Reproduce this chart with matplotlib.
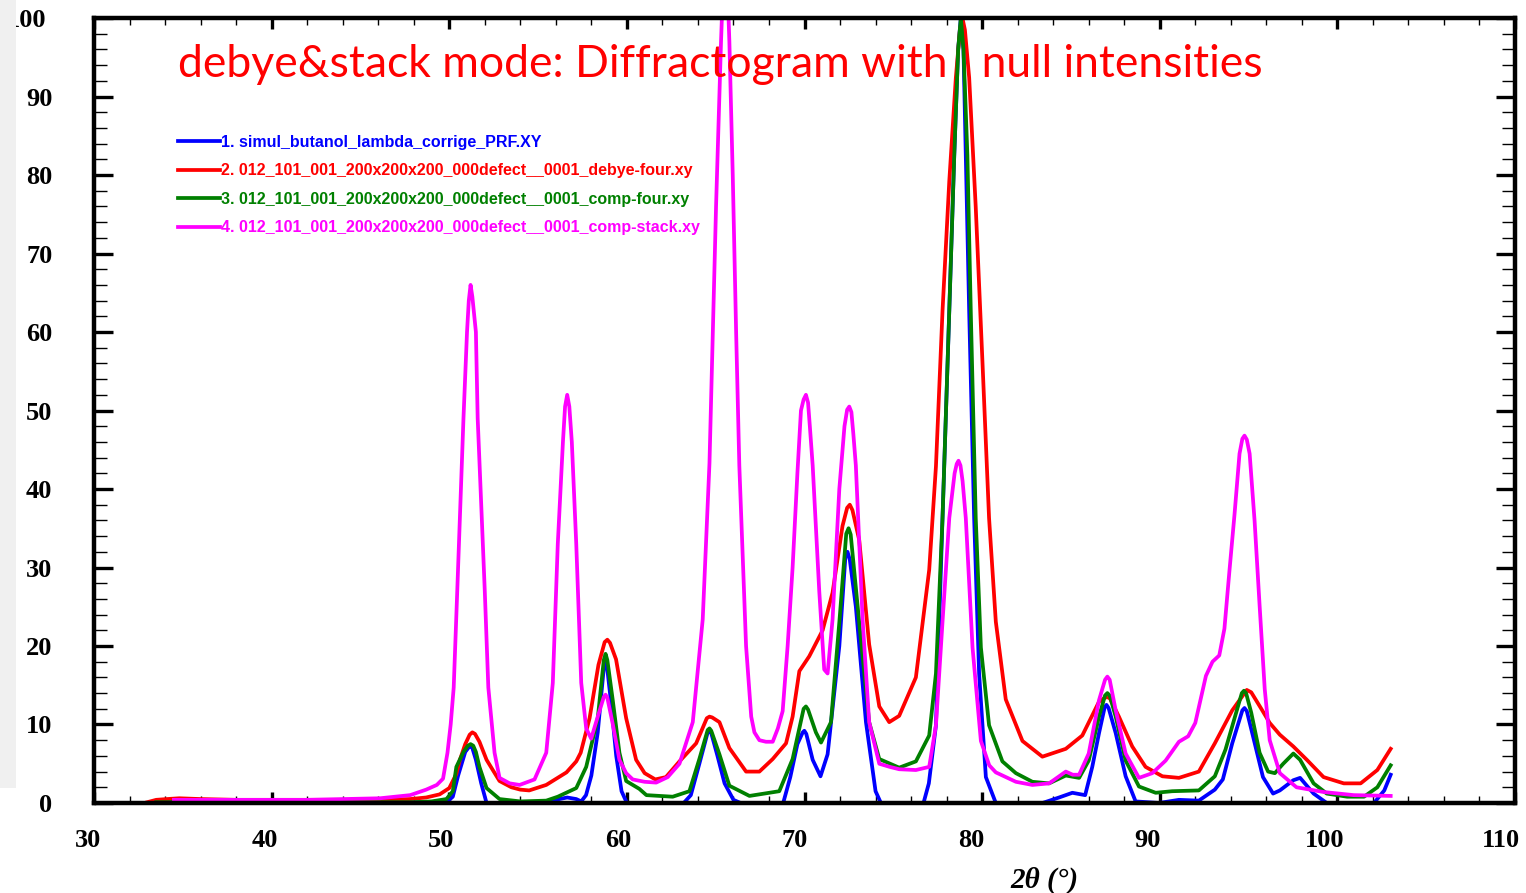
import matplotlib
matplotlib.use('Agg')
import matplotlib.pyplot as plt
import matplotlib.transforms as mtransforms
from matplotlib.ticker import MultipleLocator
from matplotlib.patches import Rectangle

# 1. simul_butanol_lambda_corrige_PRF.XY
blue_x = [33.5, 40, 45, 49.0, 49.8, 50.2, 50.5, 50.9, 51.1, 51.2, 51.3, 51.5, 51.8, 52.1, 55.5, 56.2,
          56.64, 57.15, 57.43, 57.7, 58.0, 58.36, 58.7, 58.8, 58.9, 59.1, 59.4, 59.7, 60.0, 63.2, 63.6,
          64.08, 64.55, 64.65, 64.75, 65.1, 65.5, 66.0, 66.4, 68.8, 69.2, 69.6, 69.9, 69.99, 70.1, 70.46,
          70.9, 71.3, 71.96, 72.3, 72.42, 72.55, 72.89, 73.46, 74.0, 74.3, 76.7, 77.0, 77.4, 77.77,
          78.15, 78.43, 78.65, 78.8, 78.95, 79.27, 79.55, 79.83, 80.21, 80.77, 83.4, 84.33, 85.08,
          85.8, 86.2, 86.58, 86.9, 87.0, 87.12, 87.52, 88.08, 88.64, 89.96, 91.08, 92.2, 93.1, 93.55,
          94.08, 94.65, 94.77, 94.9, 95.25, 95.81, 96.38, 96.76, 97.52, 97.9, 98.66, 99.4, 102.06,
          102.64, 103.0]
blue_y = [0.1, 0.1, 0.1, 0.1, 0.0, 0.8, 3.5, 6.5, 7.1, 7.3, 7.0, 5.5, 2.5, 0.0, 0.0, 0.5,
          0.7, 0.5, 0.2, 1.0, 3.5, 9.0, 17.2, 18.1, 17.0, 13.0, 6.0, 1.5, 0.0, 0.0, 1.0,
          5.0, 9.0, 9.3, 8.9, 6.0, 2.5, 0.4, 0.0, 0.0, 3.3, 7.5, 9.0, 9.2, 8.8, 5.5,
          3.4, 6.2, 20.0, 31.3, 32.0, 31.0, 25.0, 10.3, 1.5, 0.0, 0.0, 2.5, 9.9, 36.3,
          62.7, 82.5, 96.0, 100.0, 96.0, 62.7, 36.3, 16.5, 3.3, 0.0, 0.0, 0.7, 1.3,
          1.0, 4.6, 8.9, 12.2, 12.5, 12.1, 8.9, 3.4, 0.2, 0.0, 0.4, 0.3, 1.7, 3.0,
          7.6, 11.8, 12.1, 11.7, 8.5, 3.3, 1.2, 1.6, 2.9, 3.2, 1.2, 0.0, 0.0,
          1.6, 3.6]

# 2. ..._debye-four.xy
red_x = [33.0, 33.5, 34.1, 34.8, 36, 38, 42, 44, 46.1, 47.8, 48.7, 49.46, 50.0, 50.4, 50.6, 50.9,
         51.15, 51.3, 51.45, 51.7, 52.1, 52.83, 53.5, 54.0, 54.5, 55.46, 56.6, 57.15, 57.4, 57.9,
         58.4, 58.75, 58.9, 59.05, 59.39, 59.96, 60.52, 61.0, 61.6, 62.2, 62.96, 63.9, 64.5, 64.65,
         64.8, 65.21, 65.77, 66.71, 67.46, 68.21, 68.96, 69.33, 69.71, 70.27, 71.02, 71.58, 72.14,
         72.4, 72.55, 72.7, 73.08, 73.64, 74.21, 74.77, 75.33, 76.27, 77.02, 77.4, 77.77, 78.15,
         78.52, 78.75, 78.89, 79.03, 79.27, 79.64, 80.02, 80.39, 80.77, 81.33, 82.27, 83.39, 84.71,
         85.64, 86.58, 86.9, 87.05, 87.2, 87.7, 88.45, 89.2, 90.15, 91.08, 92.2, 93.1, 94.08, 94.9,
         95.15, 95.77, 96.19, 96.76, 97.52, 98.28, 99.22, 100.36, 101.31, 102.25, 103.0]
red_y = [0.1, 0.4, 0.5, 0.6, 0.5, 0.4, 0.4, 0.4, 0.4, 0.5, 0.7, 1.1, 1.9, 3.7, 5.5, 7.5,
         8.7, 9.0, 8.8, 7.8, 5.5, 2.8, 2.0, 1.7, 1.6, 2.3, 3.9, 5.3, 6.4, 10.8,
         17.6, 20.5, 20.8, 20.4, 18.3, 10.8, 5.5, 3.8, 3.0, 3.3, 5.3, 7.6, 10.8, 11.0,
         10.9, 10.3, 7.0, 4.0, 4.0, 5.6, 7.6, 11.0, 16.8, 18.7, 22.0, 26.8, 35.3,
         37.6, 38.0, 37.3, 33.5, 20.2, 12.3, 10.3, 11.1, 16.0, 29.7, 42.9, 62.7, 79.2,
         92.4, 98.5, 100.0, 98.5, 92.4, 75.9, 56.1, 36.3, 23.1, 13.2, 7.9, 5.9, 6.9,
         8.6, 12.9, 13.4, 13.5, 13.3, 11.0, 7.2, 4.6, 3.4, 3.2, 4.0, 7.6, 11.8, 14.4,
         14.1, 11.8, 10.2, 8.7, 7.2, 5.5, 3.3, 2.5, 2.5, 4.2, 6.9]

# 3. ..._comp-four.xy
green_x = [33.5, 40, 45, 48.0, 49.0, 49.84, 50.2, 50.4, 50.8, 51.05, 51.2, 51.35, 51.5, 51.7, 52.1,
           52.83, 54.0, 55.46, 56.11, 57.15, 57.71, 58.36, 58.7, 58.8, 58.9, 59.21, 59.58, 59.96,
           60.7, 61.1, 62.58, 63.52, 64.08, 64.55, 64.65, 64.75, 65.21, 65.77, 66.9, 68.58, 69.33,
           69.95, 70.08, 70.2, 70.64, 70.93, 71.49, 71.96, 72.35, 72.48, 72.6, 73.08, 73.64, 74.21,
           75.33, 76.27, 77.02, 77.4, 77.77, 78.15, 78.43, 78.65, 78.8, 78.95, 79.17, 79.36, 79.64,
           79.93, 80.39, 81.14, 81.9, 82.83, 83.77, 84.71, 85.46, 86.0, 86.58, 86.92, 87.05, 87.18,
           87.52, 88.08, 88.83, 89.77, 90.7, 92.2, 93.1, 93.7, 94.3, 94.62, 94.74, 94.86, 95.15,
           95.62, 96.1, 96.48, 96.95, 97.52, 97.9, 98.66, 99.4, 100.55, 101.5, 102.25, 103.0]
green_y = [0.1, 0.1, 0.1, 0.1, 0.2, 0.5, 1.5, 4.6, 6.5, 7.3, 7.5, 7.3, 6.5, 4.6, 1.9,
           0.5, 0.2, 0.3, 0.8, 1.9, 4.6, 10.8, 18.2, 19.0, 18.2, 13.0, 6.4, 2.8,
           1.8, 1.0, 0.8, 1.5, 5.6, 9.3, 9.5, 9.2, 6.2, 2.2, 0.9, 1.5, 5.6,
           12.0, 12.3, 11.9, 9.0, 7.7, 10.3, 23.0, 34.3, 35.0, 34.2, 23.0, 10.3, 5.6,
           4.5, 5.3, 8.6, 16.5, 36.3, 62.7, 82.5, 96.0, 100.0, 96.0, 82.5, 62.7, 36.3,
           19.8, 9.9, 5.3, 3.8, 2.7, 2.5, 3.5, 3.2, 5.4, 11.0, 13.7, 14.0, 13.7,
           11.0, 5.4, 2.1, 1.3, 1.5, 1.6, 3.4, 6.8, 11.5, 14.0, 14.3, 14.0, 11.5,
           6.4, 4.0, 3.8, 5.0, 6.3, 5.5, 2.5, 1.2, 0.8, 0.8, 2.0, 4.8]

# 4. ..._comp-stack.xy
mag_x = [34.5, 38, 42, 44, 46.1, 47.8, 48.7, 49.3, 49.65, 49.9, 50.08, 50.25, 50.45, 50.8, 51.0,
         51.1, 51.2, 51.3, 51.5, 51.6, 52.0, 52.2, 52.55, 52.83, 53.4, 53.96, 54.8, 55.46, 55.83,
         56.11, 56.4, 56.52, 56.64, 56.76, 56.9, 57.15, 57.43, 57.71, 57.99, 58.36, 58.7, 58.8,
         58.9, 59.21, 59.58, 59.96, 60.33, 61.0, 61.65, 62.3, 62.96, 63.71, 64.27, 64.65, 65.02,
         65.3, 65.54, 65.77, 65.96, 66.15, 66.33, 66.71, 67.0, 67.18, 67.46, 67.83, 68.21, 68.5,
         68.77, 69.05, 69.33, 69.6, 69.8, 69.95, 70.08, 70.2, 70.3, 70.46, 70.83, 71.11, 71.3,
         71.58, 71.96, 72.25, 72.4, 72.52, 72.64, 72.75, 72.89, 73.27, 73.64, 74.21, 74.8, 75.33,
         76.27, 77.02, 77.4, 77.77, 78.15, 78.45, 78.57, 78.67, 78.78, 78.9, 79.08, 79.46, 79.93,
         80.4, 80.77, 81.9, 82.83, 83.77, 84.71, 85.1, 85.46, 86.0, 86.58, 86.92, 87.05, 87.18,
         87.52, 88.08, 88.83, 89.58, 90.33, 91.08, 91.6, 92.0, 92.6, 92.97, 93.35, 93.64, 93.92,
         94.21, 94.49, 94.65, 94.77, 94.9, 95.06, 95.34, 95.62, 95.91, 96.19, 96.76, 97.7, 99.22,
         100.92, 103.0]
mag_y = [0.4, 0.4, 0.4, 0.5, 0.6, 1.0, 1.7, 2.3, 3.1, 6.4, 10.0, 14.7, 27.0, 49.0, 60.0,
         64.0, 66.0, 64.5, 60.0, 49.0, 27.0, 14.7, 6.4, 3.2, 2.5, 2.3, 3.0, 6.4, 15.3,
         33.0, 46.0, 50.5, 52.0, 50.5, 46.0, 33.0, 15.3, 9.5, 8.2, 11.0, 13.5, 13.8,
         13.4, 10.0, 5.5, 3.8, 3.0, 2.7, 2.6, 3.3, 5.0, 10.3, 23.4, 43.3, 76.0,
         97.0, 112.0, 97.0, 80.0, 60.0, 43.0, 20.0, 11.0, 9.0, 8.0, 7.8, 7.8, 9.5,
         11.7, 20.0, 30.0, 42.0, 50.0, 51.4, 52.0, 51.0, 48.0, 43.0, 27.0, 17.0, 16.5,
         23.4, 40.0, 48.0, 50.1, 50.5, 49.8, 47.0, 43.0, 23.4, 10.3, 5.0, 4.6, 4.3,
         4.2, 4.6, 9.9, 23.1, 36.3, 42.0, 43.2, 43.6, 43.0, 41.0, 36.3, 19.8, 7.9,
         4.8, 3.9, 2.7, 2.3, 2.5, 4.0, 3.6, 3.6, 6.3, 13.1, 15.7, 16.1, 15.7,
         11.8, 6.3, 3.2, 3.8, 5.4, 7.8, 8.5, 10.2, 16.2, 18.0, 18.8, 22.2, 29.5,
         36.8, 44.5, 46.4, 46.8, 46.3, 44.5, 35.9, 25.2, 14.5, 8.0, 3.8, 2.0, 1.4,
         1.0, 0.9]

labels = ['1. simul_butanol_lambda_corrige_PRF.XY',
          '2. 012_101_001_200x200x200_000defect__0001_debye-four.xy',
          '3. 012_101_001_200x200x200_000defect__0001_comp-four.xy',
          '4. 012_101_001_200x200x200_000defect__0001_comp-stack.xy']
title = 'debye&stack mode: Diffractogram with   null intensities'

fig = plt.figure(figsize=(15.26, 8.93), dpi=100)
ax = fig.add_axes([0.0616, 0.1008, 0.9312, 0.879])

lw = 2.7
ax.plot(blue_x, blue_y, color='#0000ff', lw=lw, label=labels[0])
ax.plot(red_x, red_y, color='#ff0000', lw=lw, label=labels[1])
ax.plot(green_x, green_y, color='#008000', lw=lw, label=labels[2])
ax.plot(mag_x, mag_y, color='#ff00ff', lw=lw, label=labels[3])

ax.set_xlim(30, 110)
ax.set_ylim(0, 100)

for s in ax.spines.values():
    s.set_linewidth(3.2)
    s.set_zorder(5)

ax.xaxis.set_major_locator(MultipleLocator(10))
ax.xaxis.set_minor_locator(MultipleLocator(2))
ax.yaxis.set_major_locator(MultipleLocator(10))
ax.yaxis.set_minor_locator(MultipleLocator(2))
ax.tick_params(axis='both', which='both', direction='in', top=True, right=True, color='black')
ax.tick_params(axis='x', which='major', length=8, width=2.4, pad=19)
ax.tick_params(axis='x', which='minor', length=5, width=1.0)
ax.tick_params(axis='y', which='major', length=14, width=2.4, pad=30)
ax.tick_params(axis='y', which='minor', length=9.5, width=1.0)

for t in ax.get_xticklabels() + ax.get_yticklabels():
    t.set_fontfamily('Liberation Serif')
    t.set_fontweight('bold')
    t.set_fontsize(19)

# x tick labels drift a little left of their ticks in the original
for pos, t in zip(ax.get_xticks(), ax.get_xticklabels()):
    dx = -6 - 8 * (pos - 30) / 80
    t.set_transform(t.get_transform() + mtransforms.ScaledTranslation(dx / 100, 0, fig.dpi_scale_trans))
for pos, t in zip(ax.get_yticks(), ax.get_yticklabels()):
    if pos == 100:
        t.set_transform(t.get_transform() + mtransforms.ScaledTranslation(-6 / 100, 0, fig.dpi_scale_trans))

ax.set_xlabel('2θ (°)', fontfamily='Liberation Serif', fontstyle='italic', fontweight='bold',
              fontsize=21)
ax.xaxis.set_label_coords(0.669, -0.081)

ax.text(0.059, 0.941, title, transform=ax.transAxes, color='#ff0000', fontfamily='Lato',
        fontsize=32, va='center', ha='left')

leg = ax.legend(loc='upper left', bbox_to_anchor=(0.059, 0.851), frameon=False, borderpad=0,
                borderaxespad=0, handlelength=2.63, handletextpad=0.05, labelspacing=0.84,
                labelcolor='linecolor', prop={'family': 'Liberation Sans', 'weight': 'bold',
                                              'size': 11.5})

# grey strip at the left edge of the screenshot
fig.patches.append(Rectangle((0, 0.118), 16 / 1526, 0.882, transform=fig.transFigure,
                             facecolor='#f0f0f0', edgecolor='none', zorder=10))

fig.savefig('out.png', dpi=100)
